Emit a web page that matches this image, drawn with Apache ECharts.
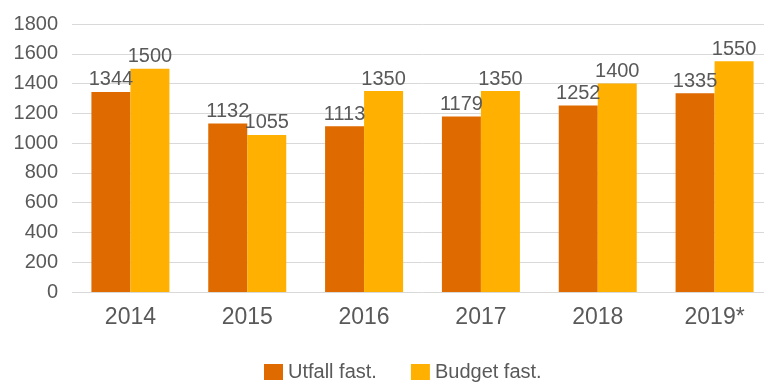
<!DOCTYPE html>
<html><head><meta charset="utf-8">
<script src="https://cdn.jsdelivr.net/npm/echarts@6/dist/echarts.min.js"></script>
<style>html,body{margin:0;padding:0;background:#fff;overflow:hidden}#c{width:773px;height:382px}</style>
</head><body><div id="c"></div>
<script>
const categories = ['2014','2015','2016','2017','2018','2019*'];
const utfall = [1344,1132,1113,1179,1252,1335];
const budget = [1500,1055,1350,1350,1400,1550];
const seriesNames = ['Utfall fast.','Budget fast.'];
const chart = echarts.init(document.getElementById('c'));
const font = 'Liberation Sans, Arial, sans-serif';
const lbl = {show:true, position:'top', distance:2, color:'#595959', fontSize:20, fontFamily:font};
chart.setOption({
  animation:false,
  textStyle:{fontFamily:font},
  grid:{left:72, top:24, right:0, bottom:90},
  legend:{top:362, left:264, padding:0, itemWidth:19, itemHeight:16, itemGap:34, icon:'rect',
    textStyle:{color:'#595959', fontSize:20, fontFamily:font}, data:seriesNames},
  xAxis:{type:'category', data:categories, axisLine:{show:false}, axisTick:{show:false},
    axisLabel:{color:'#595959', fontSize:23, margin:14, fontFamily:font}},
  yAxis:{type:'value', min:0, max:1800, interval:200, axisLine:{show:false}, axisTick:{show:false},
    splitLine:{lineStyle:{color:'#d9d9d9', width:1}},
    axisLabel:{color:'#595959', fontSize:20, margin:14, fontFamily:font, formatter:v=>String(v)}},
  series:[
    {name:seriesNames[0], type:'bar', data:utfall, barWidth:39, barGap:'0%', itemStyle:{color:'#DF6A00'}, label:lbl},
    {name:seriesNames[1], type:'bar', data:budget, barWidth:39, barGap:'0%', itemStyle:{color:'#FFB000'}, label:lbl}
  ]
});
</script></body></html>
